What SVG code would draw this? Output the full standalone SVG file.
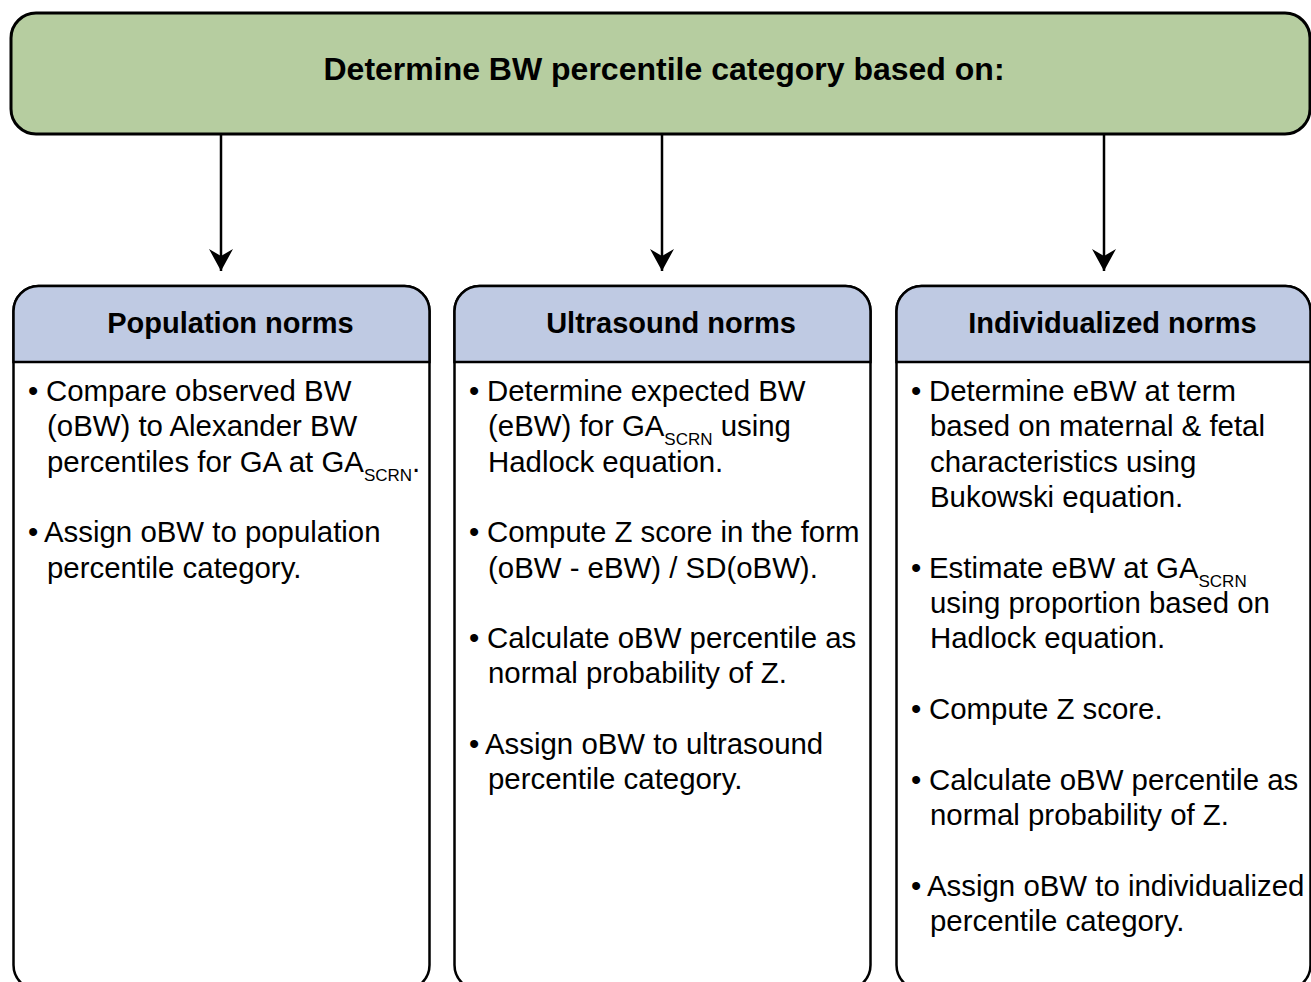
<svg xmlns="http://www.w3.org/2000/svg" width="1311" height="982" viewBox="0 0 1311 982">
<defs>
<style>
.box{fill:#fff;stroke:#000;stroke-width:2.5}
.hdr{fill:#bfcae3;stroke:#000;stroke-width:2.5}
.top{fill:#b6cda0;stroke:#000;stroke-width:3}
.t{font-family:"Liberation Sans",Arial,sans-serif;font-size:29.4px;fill:#000}
.b{font-family:"Liberation Sans",Arial,sans-serif;font-size:29px;font-weight:bold;fill:#000;text-anchor:middle}
.ttl{font-family:"Liberation Sans",Arial,sans-serif;font-size:32px;font-weight:bold;fill:#000;text-anchor:middle}
.sub{font-size:17px}
.con{stroke:#000;stroke-width:2.5;fill:none}
</style>
<marker id="ah" markerUnits="userSpaceOnUse" markerWidth="26" markerHeight="26" viewBox="0 0 26 26" refX="23" refY="13" orient="auto">
<path d="M1,1 L23,13 L1,25 L8,13 Z" fill="#000"/>
</marker>
</defs>
<rect width="1311" height="982" fill="#fff"/>

<g id="top-node">
<rect class="top" x="11" y="13" width="1299" height="121" rx="25" ry="25"/>
<text class="ttl" x="664" y="80">Determine BW percentile category based on:</text>
</g>

<g id="connectors">
<path class="con" d="M221,134 V271" marker-end="url(#ah)"/>
<path class="con" d="M662,134 V271" marker-end="url(#ah)"/>
<path class="con" d="M1104,134 V271" marker-end="url(#ah)"/>
</g>

<g id="population-norms">
<rect class="box" x="13.5" y="286" width="416" height="704" rx="25" ry="25"/>
<path class="hdr" d="M13.5,362 V311 A25,25 0 0 1 38.5,286 H404.5 A25,25 0 0 1 429.5,311 V362 Z"/>
<text class="b" x="230.5" y="333">Population norms</text>
<text class="t" x="28" y="401">•</text>
<text class="t" x="46" y="401">Compare observed BW</text>
<text class="t" x="47" y="436.3">(oBW) to Alexander BW</text>
<text class="t" x="47" y="471.7">percentiles for GA at GA<tspan class="sub" dy="9">SCRN</tspan><tspan dy="-9">.</tspan></text>
<text class="t" x="28" y="542.3">•</text>
<text class="t" x="44" y="542.3">Assign oBW to population</text>
<text class="t" x="47" y="577.7">percentile category.</text>
</g>

<g id="ultrasound-norms">
<rect class="box" x="454.5" y="286" width="416" height="704" rx="25" ry="25"/>
<path class="hdr" d="M454.5,362 V311 A25,25 0 0 1 479.5,286 H845.5 A25,25 0 0 1 870.5,311 V362 Z"/>
<text class="b" x="671" y="333">Ultrasound norms</text>
<text class="t" x="469" y="401">•</text>
<text class="t" x="487" y="401">Determine expected BW</text>
<text class="t" x="488" y="436.3">(eBW) for GA<tspan class="sub" dy="9">SCRN</tspan><tspan dy="-9"> using</tspan></text>
<text class="t" x="488" y="471.7">Hadlock equation.</text>
<text class="t" x="469" y="542.3">•</text>
<text class="t" x="487" y="542.3">Compute Z score in the form</text>
<text class="t" x="488" y="577.7">(oBW - eBW) / SD(oBW).</text>
<text class="t" x="469" y="648">•</text>
<text class="t" x="487" y="648">Calculate oBW percentile as</text>
<text class="t" x="488" y="683.3">normal probability of Z.</text>
<text class="t" x="469" y="754">•</text>
<text class="t" x="485" y="754">Assign oBW to ultrasound</text>
<text class="t" x="488" y="789.3">percentile category.</text>
</g>

<g id="individualized-norms">
<rect class="box" x="896.5" y="286" width="414" height="704" rx="25" ry="25"/>
<path class="hdr" d="M896.5,362 V311 A25,25 0 0 1 921.5,286 H1285.5 A25,25 0 0 1 1310.5,311 V362 Z"/>
<text class="b" x="1112.5" y="333">Individualized norms</text>
<text class="t" x="911" y="401">•</text>
<text class="t" x="929" y="401">Determine eBW at term</text>
<text class="t" x="930" y="436.3">based on maternal &amp; fetal</text>
<text class="t" x="930" y="471.7">characteristics using</text>
<text class="t" x="930" y="507">Bukowski equation.</text>
<text class="t" x="911" y="577.7">•</text>
<text class="t" x="929" y="577.7">Estimate eBW at GA<tspan class="sub" dy="9">SCRN</tspan></text>
<text class="t" x="930" y="613">using proportion based on</text>
<text class="t" x="930" y="648.3">Hadlock equation.</text>
<text class="t" x="911" y="719">•</text>
<text class="t" x="929" y="719">Compute Z score.</text>
<text class="t" x="911" y="789.7">•</text>
<text class="t" x="929" y="789.7">Calculate oBW percentile as</text>
<text class="t" x="930" y="825">normal probability of Z.</text>
<text class="t" x="911" y="896">•</text>
<text class="t" x="927" y="896">Assign oBW to individualized</text>
<text class="t" x="930" y="931">percentile category.</text>
</g>
</svg>
